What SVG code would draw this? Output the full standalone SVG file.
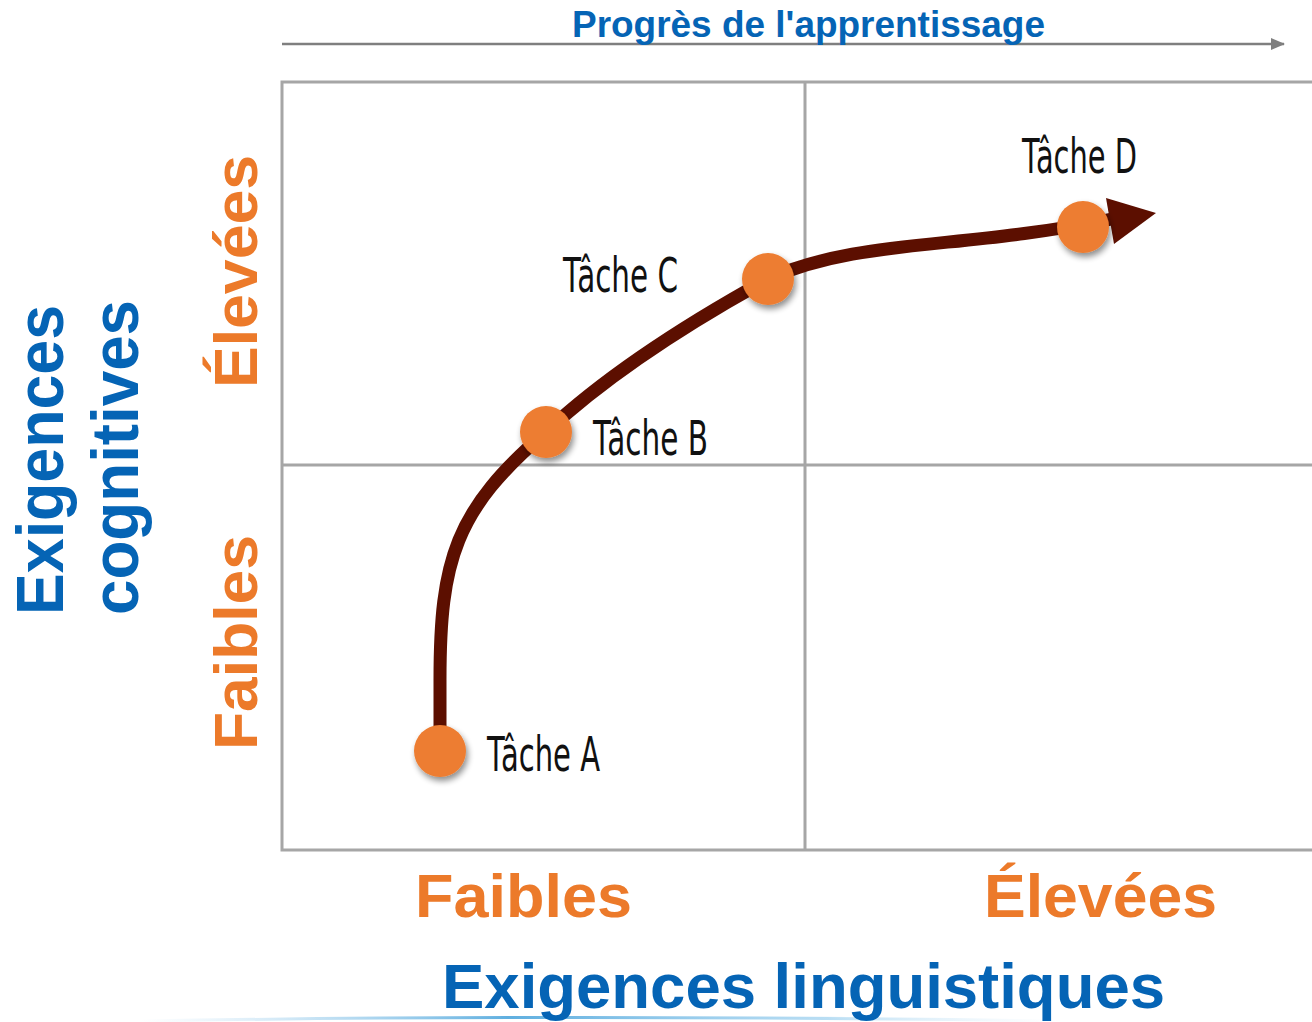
<svg xmlns="http://www.w3.org/2000/svg" width="1312" height="1022" viewBox="0 0 1312 1022">
<style>
.blue{fill:#0564B5;font-family:"Liberation Sans",Arial,sans-serif;font-weight:bold}
.orange{fill:#EC7A2A;font-family:"Liberation Sans",Arial,sans-serif;font-weight:bold}
.task{fill:#111;font-family:"DejaVu Sans Condensed","Liberation Sans Narrow","DejaVu Sans",sans-serif;font-size:48px}
.grid{stroke:#A6A6A6;stroke-width:3;fill:none}
.dot{fill:#ED7D31;filter:url(#sh)}
</style>
<defs>
<marker id="ah" markerWidth="14" markerHeight="14" refX="13" refY="7" orient="auto" markerUnits="userSpaceOnUse">
<path d="M0,1 L14,7 L0,13 z" fill="#7F7F7F"/>
</marker>
<filter id="sh" x="-50%" y="-50%" width="200%" height="200%">
<feGaussianBlur in="SourceAlpha" stdDeviation="3"/>
<feOffset dx="2" dy="4" result="b"/>
<feComponentTransfer><feFuncA type="linear" slope="0.45"/></feComponentTransfer>
<feMerge><feMergeNode/><feMergeNode in="SourceGraphic"/></feMerge>
</filter>
<linearGradient id="hz" x1="0" y1="0" x2="1" y2="0">
<stop offset="0" stop-color="#9fd0ef" stop-opacity="0"/>
<stop offset="0.4" stop-color="#4ea6dc" stop-opacity="0.9"/>
<stop offset="0.75" stop-color="#8cc8ec" stop-opacity="0.6"/>
<stop offset="1" stop-color="#cfe8f7" stop-opacity="0"/>
</linearGradient>
</defs>

<g id="horizon">
<path d="M140,1021 Q560,1014 1060,1021" stroke="url(#hz)" stroke-width="3" fill="none"/>
</g>

<g id="progress-axis">
<line x1="282" y1="44" x2="1284" y2="44" stroke="#7F7F7F" stroke-width="2.5" marker-end="url(#ah)"/>
<text class="blue" x="572" y="37" font-size="37" textLength="473" lengthAdjust="spacingAndGlyphs">Progrès de l'apprentissage</text>
</g>

<g id="grid">
<path class="grid" d="M1314,82 H282 V850 H1314"/>
<line class="grid" x1="805" y1="82" x2="805" y2="850"/>
<line class="grid" x1="282" y1="465" x2="1314" y2="465"/>
</g>

<g id="y-axis-labels">
<text class="blue" font-size="66" transform="translate(63,615) rotate(-90)" textLength="310" lengthAdjust="spacingAndGlyphs">Exigences</text>
<text class="blue" font-size="66" transform="translate(138,615) rotate(-90)" textLength="315" lengthAdjust="spacingAndGlyphs">cognitives</text>
<text class="orange" font-size="62" transform="translate(257,388) rotate(-90)" textLength="233" lengthAdjust="spacingAndGlyphs">Élevées</text>
<text class="orange" font-size="62" transform="translate(257,750) rotate(-90)" textLength="215" lengthAdjust="spacingAndGlyphs">Faibles</text>
</g>

<g id="x-axis-labels">
<text class="orange" x="415" y="917" font-size="62" textLength="217" lengthAdjust="spacingAndGlyphs">Faibles</text>
<text class="orange" x="984" y="917" font-size="62" textLength="233" lengthAdjust="spacingAndGlyphs">Élevées</text>
<text class="blue" x="442" y="1008" font-size="63" textLength="723" lengthAdjust="spacingAndGlyphs">Exigences linguistiques</text>
</g>

<g id="connectors">
<path d="M440,740 L440,680 C440,560 455,510 546,432 C610,372 690,322 768,279 C860,238 960,250 1112,219" stroke="#5C0F00" stroke-width="13" fill="none" stroke-linecap="butt"/>
<path d="M1106,198 L1156,213 L1114,244 z" fill="#5C0F00"/>
</g>

<g id="task-a">
<circle class="dot" cx="440" cy="751" r="26"/>
<text class="task" x="487" y="771" textLength="113" lengthAdjust="spacingAndGlyphs">Tâche A</text>
</g>
<g id="task-b">
<circle class="dot" cx="546" cy="432" r="26"/>
<text class="task" x="593" y="455" textLength="115" lengthAdjust="spacingAndGlyphs">Tâche B</text>
</g>
<g id="task-c">
<circle class="dot" cx="768" cy="279" r="26"/>
<text class="task" x="563" y="292" textLength="115" lengthAdjust="spacingAndGlyphs">Tâche C</text>
</g>
<g id="task-d">
<circle class="dot" cx="1083" cy="227" r="26"/>
<text class="task" x="1022" y="173" textLength="115" lengthAdjust="spacingAndGlyphs">Tâche D</text>
</g>
</svg>
